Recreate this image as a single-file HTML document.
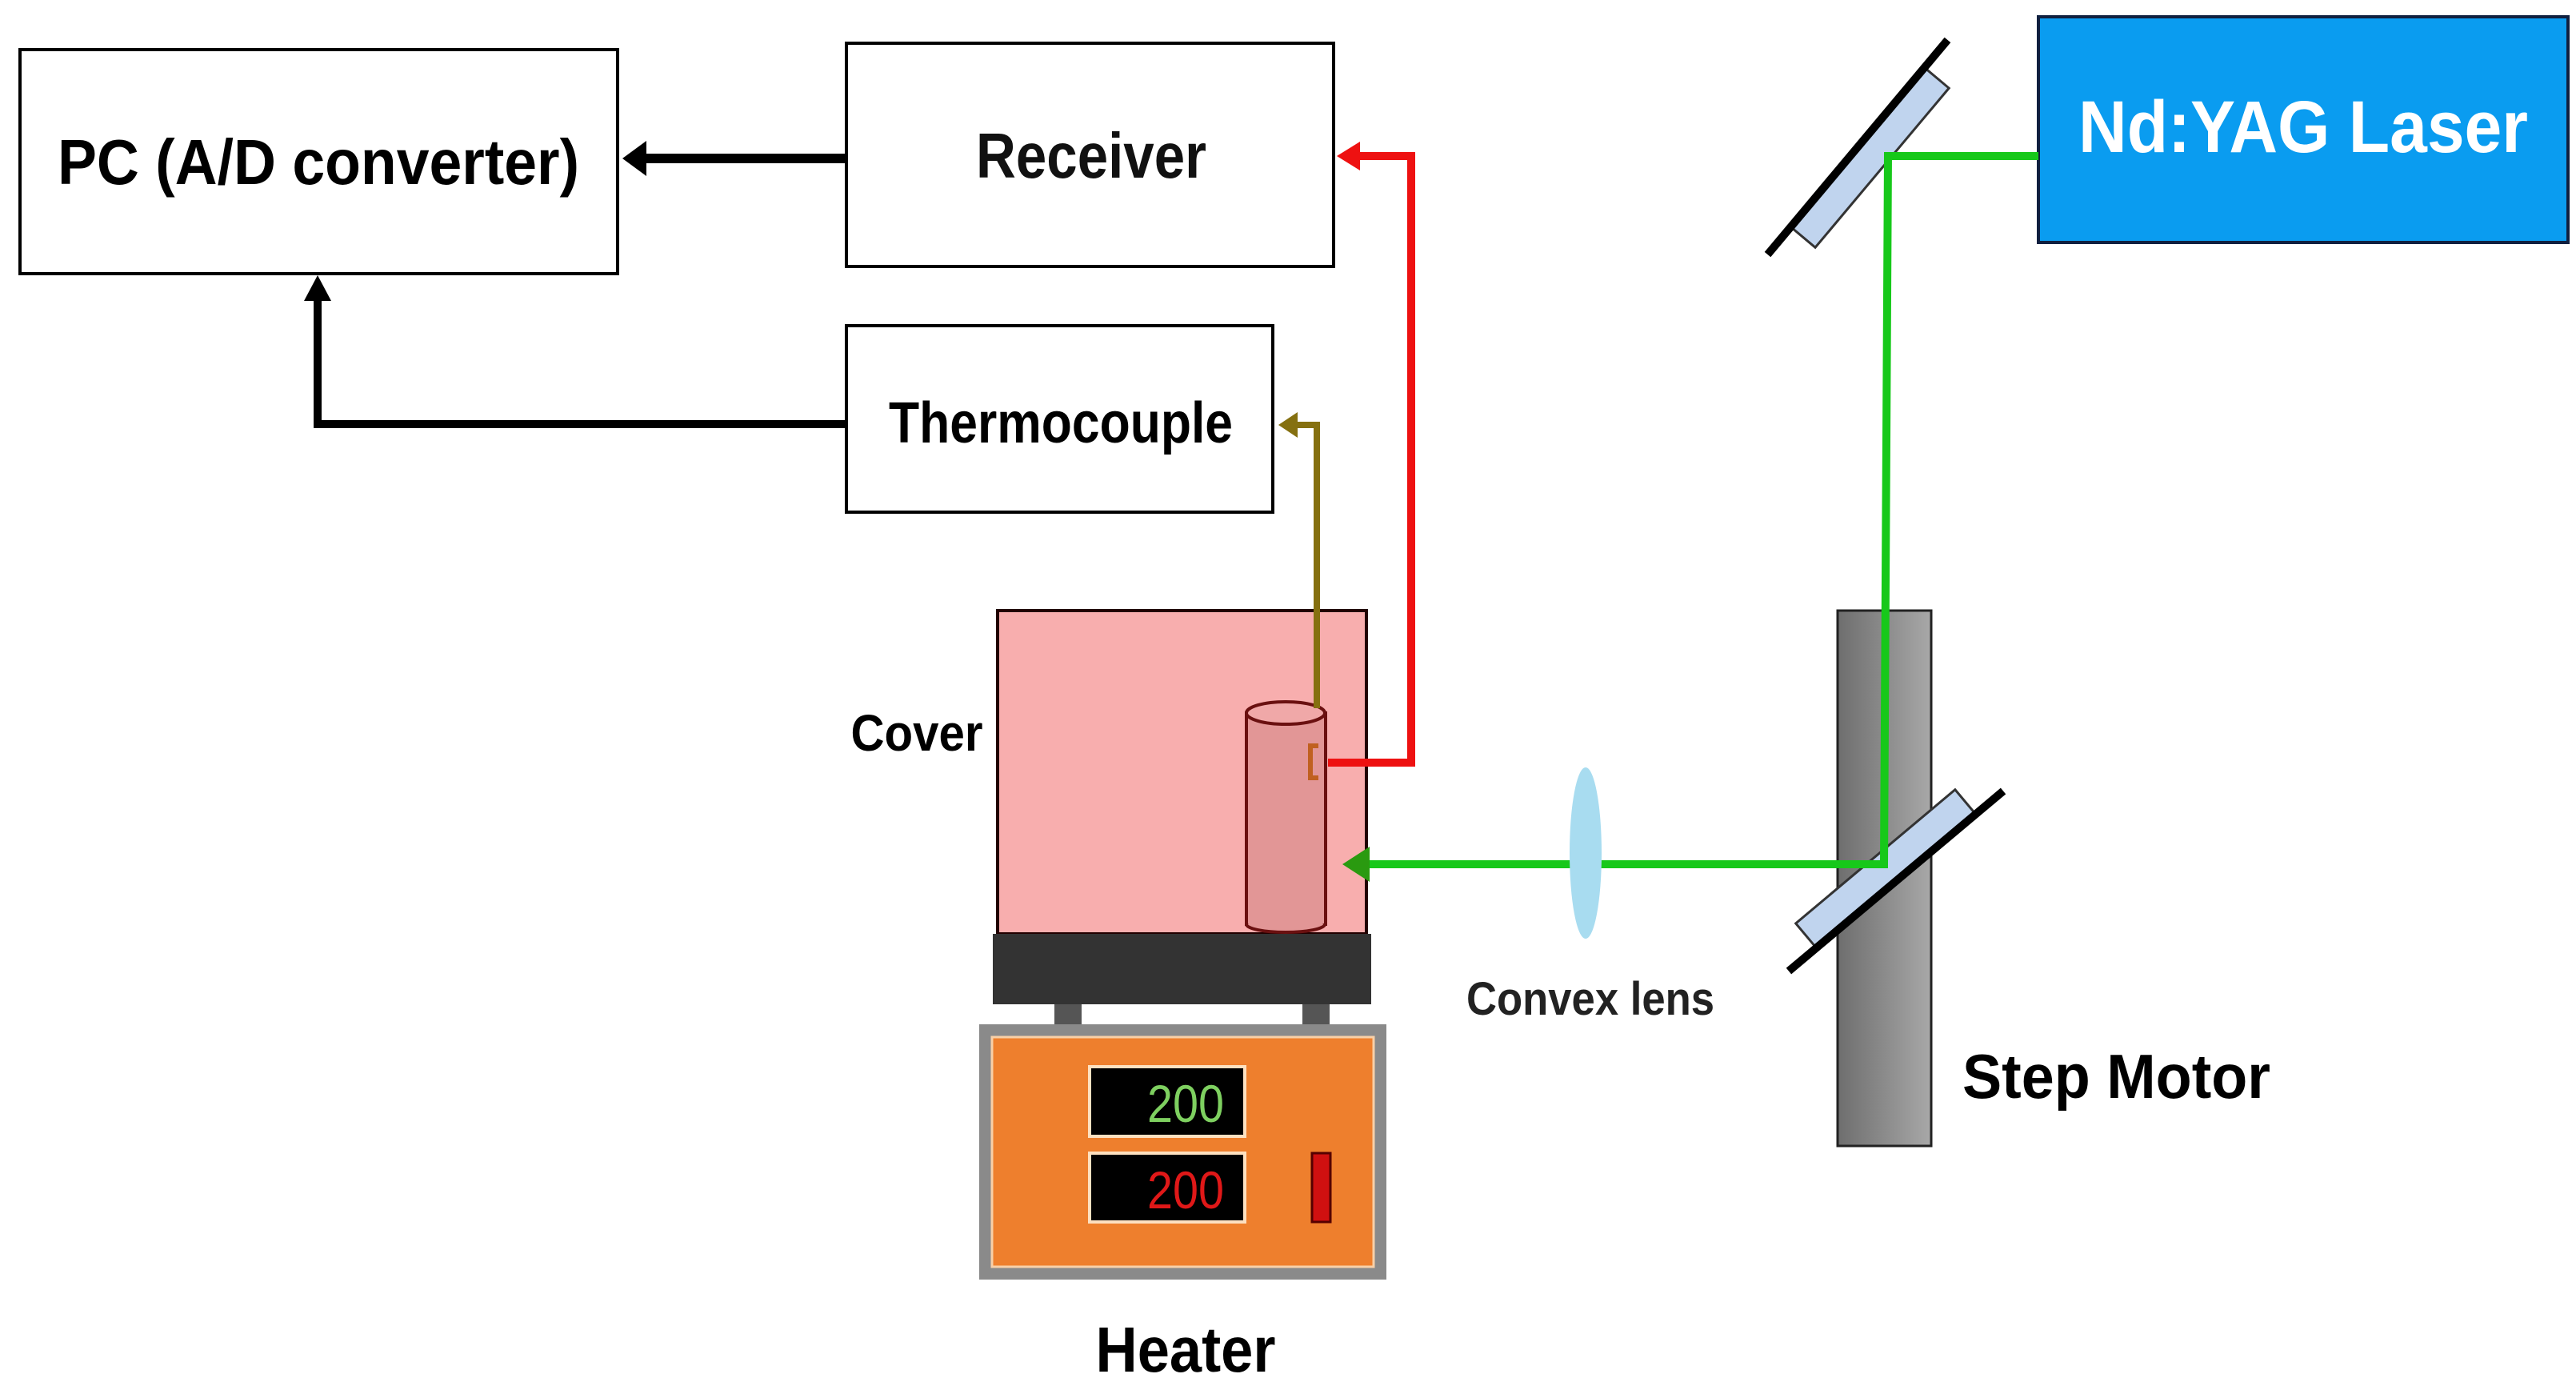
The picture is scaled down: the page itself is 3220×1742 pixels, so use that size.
<!DOCTYPE html>
<html><head><meta charset="utf-8"><style>html,body{margin:0;padding:0;background:#fff}svg{display:block}</style></head>
<body>
<svg width="3220" height="1742" viewBox="0 0 3220 1742" xmlns="http://www.w3.org/2000/svg" font-family="Liberation Sans, sans-serif">
<defs>
<linearGradient id="mot" x1="0" x2="1"><stop offset="0" stop-color="#6e6e6e"/><stop offset="1" stop-color="#a8a8a8"/></linearGradient>
</defs>
<rect width="3220" height="1742" fill="#fff"/>
<!-- boxes -->
<rect x="25" y="62" width="747" height="280" fill="#fff" stroke="#000" stroke-width="4"/>
<text x="398" y="230" font-size="80" font-weight="bold" text-anchor="middle" textLength="652" lengthAdjust="spacingAndGlyphs">PC (A/D converter)</text>
<rect x="1058" y="54" width="609" height="279" fill="#fff" stroke="#000" stroke-width="4"/>
<text x="1364" y="222" font-size="80" text-anchor="middle" textLength="288" lengthAdjust="spacingAndGlyphs" font-weight="bold" fill="#111">Receiver</text>
<rect x="1058" y="407" width="533" height="233" fill="#fff" stroke="#000" stroke-width="4"/>
<text x="1326" y="553" font-size="72" font-weight="bold" text-anchor="middle" textLength="430" lengthAdjust="spacingAndGlyphs">Thermocouple</text>
<rect x="2548" y="21" width="662" height="282" fill="#0a9cf0" stroke="#102040" stroke-width="4"/>
<text x="2879" y="190" font-size="92" font-weight="bold" fill="#fff" text-anchor="middle" textLength="562" lengthAdjust="spacingAndGlyphs">Nd:YAG Laser</text>
<!-- black connectors -->
<line x1="1058" y1="198" x2="800" y2="198" stroke="#000" stroke-width="12"/>
<polygon points="778,198 808,176 808,220" fill="#000"/>
<polyline points="1058,530 397,530 397,370" fill="none" stroke="#000" stroke-width="10"/>
<polygon points="397,344 380,376 414,376" fill="#000"/>
<!-- step motor -->
<rect x="2297" y="763" width="117" height="669" fill="url(#mot)" stroke="#222" stroke-width="3"/>
<!-- mirrors -->
<g transform="translate(2322,184) rotate(-50)">
<rect x="-130" y="0" width="260" height="40" fill="#c0d4ee" stroke="#333" stroke-width="3"/>
<line x1="-175" y1="0" x2="175" y2="0" stroke="#000" stroke-width="10"/>
</g>
<g transform="translate(2370,1101) rotate(-40)">
<rect x="-130" y="-40" width="260" height="40" fill="#c0d4ee" stroke="#333" stroke-width="3"/>
<line x1="-175" y1="0" x2="175" y2="0" stroke="#000" stroke-width="10"/>
</g>
<!-- cover -->
<rect x="1247" y="763" width="461" height="404" fill="#f8aeae" stroke="#200" stroke-width="4"/>
<text x="1146" y="938" font-size="64" font-weight="bold" text-anchor="middle" textLength="165" lengthAdjust="spacingAndGlyphs">Cover</text>
<!-- cylinder -->
<rect x="1558" y="891" width="99" height="264" fill="#e29696" stroke="#6a1010" stroke-width="4"/>
<ellipse cx="1607" cy="1155" rx="49" ry="10" fill="#e29696" stroke="#6a1010" stroke-width="4"/>
<rect x="1560" y="1140" width="95" height="14" fill="#e29696"/>
<ellipse cx="1607" cy="891" rx="49" ry="14" fill="#f0a8a8" stroke="#6a1010" stroke-width="4"/>
<path d="M1648,932 h-10 v40 h10" fill="none" stroke="#c06020" stroke-width="6"/>
<!-- olive & red lines -->
<polyline points="1646,885 1646,531 1615,531" fill="none" stroke="#857010" stroke-width="8"/>
<polygon points="1598,531 1622,515 1622,547" fill="#857010"/>
<polyline points="1660,953 1764,953 1764,195 1690,195" fill="none" stroke="#ee1111" stroke-width="10"/>
<polygon points="1671,195 1700,177 1700,213" fill="#ee1111"/>
<!-- green beam -->
<polyline points="2548,195 2360,195 2355,1080 1705,1080" fill="none" stroke="#17c81a" stroke-width="10"/>
<polygon points="1678,1080 1712,1058 1712,1102" fill="#2a9a10"/>
<!-- lens -->
<ellipse cx="1982" cy="1066" rx="20" ry="107" fill="#a8dcf0"/>
<text x="1988" y="1268" font-size="58" font-weight="bold" text-anchor="middle" textLength="310" lengthAdjust="spacingAndGlyphs" fill="#222">Convex lens</text>
<text x="2453" y="1372" font-size="78" font-weight="bold" textLength="385" lengthAdjust="spacingAndGlyphs">Step Motor</text>
<!-- base -->
<rect x="1241" y="1167" width="473" height="88" fill="#333"/>
<rect x="1318" y="1255" width="34" height="25" fill="#555"/>
<rect x="1628" y="1255" width="34" height="25" fill="#555"/>
<!-- heater -->
<rect x="1224" y="1280" width="509" height="319" fill="#8a8a8a"/>
<rect x="1240" y="1296" width="477" height="287" fill="#ee7f2d" stroke="#f8d0a8" stroke-width="3"/>
<rect x="1362" y="1333" width="194" height="87" fill="#000" stroke="#fde0c0" stroke-width="4"/>
<text x="1530" y="1402" font-size="66" fill="#7ed060" text-anchor="end" textLength="96" lengthAdjust="spacingAndGlyphs">200</text>
<rect x="1362" y="1441" width="194" height="86" fill="#000" stroke="#fde0c0" stroke-width="4"/>
<text x="1530" y="1510" font-size="66" fill="#e01818" text-anchor="end" textLength="96" lengthAdjust="spacingAndGlyphs">200</text>
<rect x="1640" y="1441" width="23" height="86" fill="#d01010" stroke="#500" stroke-width="3"/>
<text x="1482" y="1714" font-size="80" font-weight="bold" text-anchor="middle" textLength="225" lengthAdjust="spacingAndGlyphs">Heater</text>
</svg>
</body></html>
